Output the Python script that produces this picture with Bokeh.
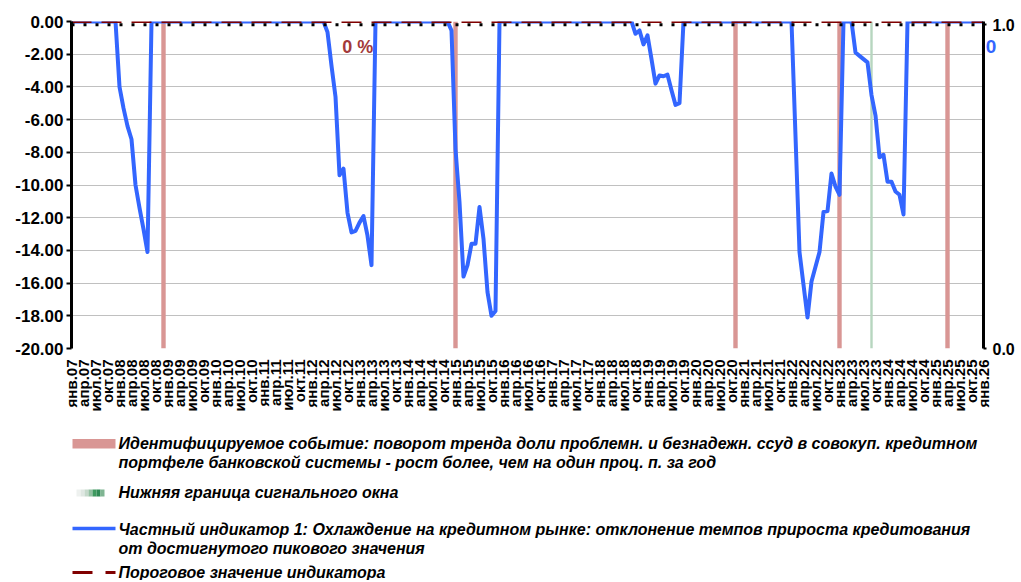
import math
from bokeh.plotting import figure
from bokeh.models import Range1d, LinearAxis, FixedTicker, NumeralTickFormatter, Label
from bokeh.layouts import column
from bokeh.embed import file_html
from bokeh.resources import INLINE

# ---------------- data ----------------
quarter_names = ["янв", "апр", "июл", "окт"]
years = ["07", "08", "09", "10", "11", "12", "13", "14", "15", "16",
         "17", "18", "19", "20", "21", "22", "23", "24", "25", "26"]
quarter_labels = [f"{q}.{y}" for y in years for q in quarter_names][:77]   # янв.07 ... янв.26
n_months = 229                                                              # янв.07 ... янв.26 monthly
months = list(range(n_months))
quarter_ticks = [3 * i for i in range(len(quarter_labels))]

# indicator 1: deviation of credit growth from its peak (month index of first value, values)
episode_2008 = (12, [-4.0, -5.3, -6.4, -7.2, -10.0, -11.4, -12.7, -14.1])
episode_2012 = (64, [-0.65, -2.7, -4.6, -9.4, -9.0, -11.7, -12.9, -12.8, -12.3, -11.9, -13.1, -14.9])
episode_2014 = (95, [-0.55, -7.8, -11.05, -15.6, -14.9, -13.6, -13.6, -11.35, -13.3, -16.55, -18.0, -17.7])
episode_2018 = (141, [-0.75, -0.55, -1.4, -0.85, -2.3, -3.8, -3.3, -3.35, -3.25, -4.2, -5.1, -5.0])
episode_2022 = (181, [-7.0, -14.1, -16.1, -18.1, -15.9, -15.0, -14.1, -11.65, -11.6, -9.3, -10.1, -10.6])
episode_2023 = (196, [-1.9, -2.1, -2.3, -2.5, -4.5, -5.75, -8.3, -8.15, -9.8, -9.8, -10.4, -10.6, -11.8])
episodes = [episode_2008, episode_2012, episode_2014, episode_2018, episode_2022, episode_2023]

cooling = [0.0] * n_months
for start, vals in episodes:
    cooling[start:start + len(vals)] = vals

threshold = [0.0] * n_months          # пороговое значение (0 %)
signal = [1.0] * n_months             # right-axis series
event_months = [23, 96, 166, 192, 219]   # identified events
window_months = [200]                    # lower bound of signal window

y_ticks = [-20, -18, -16, -14, -12, -10, -8, -6, -4, -2, 0]
right_ticks = [0, 1]

# ---------------- styles ----------------
FONT = "Liberation Sans"
BLUE = "#3366ff"
PINK = "#d99694"
DARKRED = "#800000"

p = figure(width=1021, height=430, x_range=Range1d(0, 228), y_range=Range1d(-20, 0),
           output_backend="svg", toolbar_location=None,
           min_border_left=71, min_border_right=38, min_border_top=21, min_border_bottom=82)
p.outline_line_color = None
p.extra_y_ranges = {"right": Range1d(0, 1.01)}

yax = p.yaxis[0]
yax.ticker = FixedTicker(ticks=y_ticks)
yax.formatter = NumeralTickFormatter(format="0.00")
yax.axis_line_width = 3
yax.axis_line_color = "black"
yax.major_tick_out = 5
yax.major_tick_in = 0
yax.major_tick_line_width = 2
yax.minor_tick_line_color = None
yax.major_label_text_font = FONT
yax.major_label_text_font_size = "17px"
yax.major_label_text_font_style = "bold"
yax.major_label_text_color = "black"
yax.major_label_standoff = 3

p.ygrid.ticker = FixedTicker(ticks=y_ticks)
p.ygrid.grid_line_color = "#c0c0c0"
p.ygrid.grid_line_width = 1
p.xgrid.grid_line_color = None

xax = p.xaxis[0]
xax.ticker = FixedTicker(ticks=quarter_ticks)
xax.major_label_overrides = {t: lab for t, lab in zip(quarter_ticks, quarter_labels)}
xax.major_label_orientation = math.pi / 2
xax.axis_line_color = None
xax.major_tick_line_color = None
xax.minor_tick_line_color = None
xax.major_label_text_font = FONT
xax.major_label_text_font_size = "15px"
xax.major_label_text_font_style = "bold"
xax.major_label_text_color = "black"
xax.major_label_standoff = 5

rax = LinearAxis(y_range_name="right", ticker=FixedTicker(ticks=right_ticks),
                 formatter=NumeralTickFormatter(format="0.0"))
rax.axis_line_width = 3
rax.axis_line_color = "black"
rax.major_tick_out = 3
rax.major_tick_in = 0
rax.major_tick_line_width = 2
rax.minor_tick_line_color = None
rax.major_label_text_font = FONT
rax.major_label_text_font_size = "16px"
rax.major_label_text_font_style = "bold"
rax.major_label_text_color = "black"
rax.major_label_standoff = 6
# blue "0" data label right of the frame, drawn as the right axis' label
rax.axis_label = "\n\n0"
rax.axis_label_text_font = FONT
rax.axis_label_text_font_size = "19px"
rax.axis_label_text_font_style = "bold"
rax.axis_label_text_color = BLUE
rax.axis_label_orientation = "horizontal"
rax.axis_label_align = "end"
rax.axis_label_standoff = -32
p.add_layout(rax, "right")

p.vbar(x=event_months, width=1.1, top=0, bottom=-20, fill_color=PINK, line_color=None)
p.vbar(x=window_months, width=0.6, top=0, bottom=-20, fill_color="#b7d6bf", line_color=None)
p.line(months, cooling, line_color=BLUE, line_width=4, line_join="round")
p.line(months, threshold, line_color=DARKRED, line_width=3, line_dash="20 10")
p.line(months, signal, y_range_name="right", line_color="black", line_width=3, line_dash="3 9")

p.add_layout(Label(x=67.7, y=-1.55, text="0 %", text_font=FONT, text_font_size="18px",
                   text_font_style="bold", text_color="#a33a3a", text_baseline="middle"))

# ---------------- legend (page coordinates) ----------------
lg = figure(width=1021, height=150, x_range=Range1d(71, 983), y_range=Range1d(580, 430),
            output_backend="svg", toolbar_location=None, min_border=0,
            x_axis_location=None, y_axis_location=None)
lg.outline_line_color = None
lg.grid.visible = False

legend_texts = [
    (443, "Идентифицируемое  событие: поворот  тренда  доли проблемн. и безнадежн. ссуд  в совокуп. кредитном"),
    (462, "портфеле  банковской системы   - рост более, чем  на один проц. п. за год"),
    (492, "Нижняя граница сигнального окна"),
    (529, "Частный индикатор 1: Охлаждение на кредитном  рынке: отклонение темпов прироста  кредитования"),
    (548, "от достигнутого  пикового значения"),
    (572, "Пороговое  значение индикатора"),
]
for yy, t in legend_texts:
    lg.add_layout(Label(x=118, y=yy, text=t, text_font=FONT, text_font_size="16px",
                        text_font_style="bold italic", text_color="black",
                        text_baseline="middle"))

lg.quad(left=[72], right=[115], top=[438.5], bottom=[448], fill_color=PINK, line_color=None)
grad_cols = ["#eef1ef", "#dfe7e2", "#c5d9cb", "#93c0a2", "#3f9a60", "#2f8a55", "#7fb592"]
lg.quad(left=[76 + 4 * i for i in range(7)], right=[80 + 4 * i for i in range(7)],
        top=[489] * 7, bottom=[496] * 7, fill_color=grad_cols, line_color=None)
lg.line([72, 115], [528, 528], line_color=BLUE, line_width=3.5)
lg.line([72, 115], [572, 572], line_color=DARKRED, line_width=3, line_dash="20 13")

layout = column(p, lg, spacing=0)
open("out.html", "w").write(file_html(layout, INLINE))
